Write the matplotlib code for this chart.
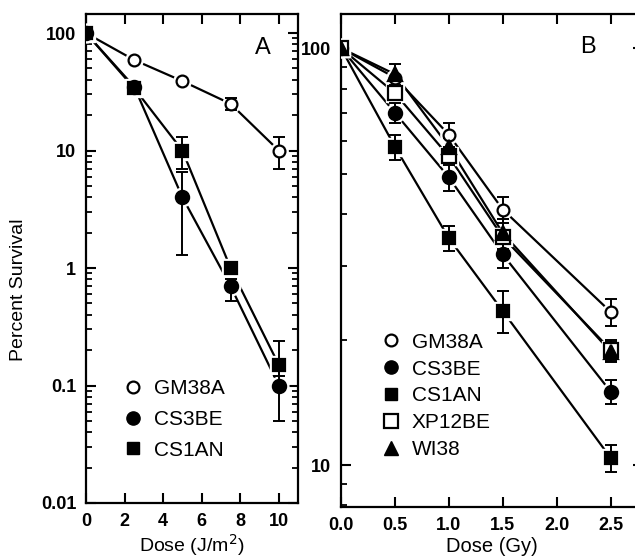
import matplotlib
matplotlib.use('Agg')
import matplotlib.pyplot as plt
from matplotlib.lines import Line2D
from matplotlib.ticker import NullFormatter

plt.rcParams['font.family'] = ['Liberation Sans', 'DejaVu Sans']

# panel A - UV dose (J/m2)
dose_a = [0, 2.5, 5, 7.5, 10]
gm38a_a = [100, 59, 39, 25, 10]
gm38a_a_lo = [0, 0, 0, 3, 3]
gm38a_a_hi = [0, 0, 0, 3, 3]
cs3be_a = [100, 35, 4, 0.7, 0.1]
cs3be_a_lo = [0, 0, 2.7, 0.18, 0.05]
cs3be_a_hi = [0, 0, 2.6, 0.1, 0.05]
cs1an_a = [100, 34, 10, 1.0, 0.15]
cs1an_a_lo = [0, 0, 3, 0.1, 0.03]
cs1an_a_hi = [0, 0, 3, 0.1, 0.09]
ticks_a = [0.01, 0.1, 1, 10, 100]
ticklabels_a = ['0.01', '0.1', '1', '10', '100']

# panel B - gamma dose (Gy)
dose_b = [0, 0.5, 1.0, 1.5, 2.5]
gm38a_b = [100, 85, 62, 41, 23.3]
gm38a_b_err = [0, 0, 4, 3, 1.7]
cs3be_b = [100, 70, 49, 32, 15]
cs3be_b_err = [0, 4, 3.5, 2.3, 1.0]
cs1an_b = [100, 58, 35, 23.4, 10.4]
cs1an_b_err = [0, 4, 2.4, 2.7, 0.8]
xp12be_b = [100, 78, 55, 35.2, 18.9]
xp12be_b_err = [0, 0, 0, 0, 1.1]
wi38_b = [100, 86.6, 58, 36, 18.7]
wi38_b_err = [0, 5, 3, 3, 1.0]
ticks_b = [10, 100]
ticklabels_b = ['10', '100']

fig = plt.figure(figsize=(6.35, 5.6), dpi=100)
axA = fig.add_axes([0.1354, 0.1018, 0.334, 0.873])
axB = fig.add_axes([0.537, 0.0946, 0.4756, 0.880])
axA.set_yscale('log')
axB.set_yscale('log')


def series(ax, x, y, lo, hi, marker, filled, ms):
    ax.plot(x, y, color='black', lw=1.6, zorder=2)
    # white halo so lines stop short of the markers
    ax.plot(x, y, ls='none', marker=marker, ms=ms + 4, mfc='white', mec='white', zorder=3)
    ax.errorbar(x, y, yerr=[lo, hi], fmt='none', ecolor='black', elinewidth=1.4,
                capsize=4, capthick=1.4, zorder=4)
    ax.plot(x, y, ls='none', marker=marker, ms=ms, mfc='black' if filled else 'white',
            mec='black', mew=1.6, zorder=5)


def style(ax, xt, xtl, yt, ytl):
    for s in ax.spines.values():
        s.set_linewidth(1.6)
    ax.set_xticks(xt)
    ax.set_xticklabels(xtl, fontweight='bold')
    ax.set_yticks(yt)
    ax.set_yticklabels(ytl, fontweight='bold')
    ax.yaxis.set_minor_formatter(NullFormatter())
    ax.tick_params(which='major', direction='in', length=7, width=1.5, top=True, right=True,
                   labelsize=13, pad=7)
    ax.tick_params(which='minor', direction='in', length=4, width=1.3, top=True, right=True)


series(axA, dose_a, gm38a_a, gm38a_a_lo, gm38a_a_hi, 'o', False, 8.5)
series(axA, dose_a, cs3be_a, cs3be_a_lo, cs3be_a_hi, 'o', True, 9.5)
series(axA, dose_a, cs1an_a, cs1an_a_lo, cs1an_a_hi, 's', True, 9)
axA.set_xlim(0, 11)
axA.set_ylim(0.01, 145)
style(axA, [0, 2, 4, 6, 8, 10], ['0', '2', '4', '6', '8', '10'], ticks_a, ticklabels_a)
axA.set_xlabel('Dose (J/m$^2$)', fontsize=14, labelpad=2)
axA.set_ylabel('Percent Survival', fontsize=14)
axA.yaxis.set_label_coords(-0.278, 0.436)
axA.text(0.835, 0.93, 'A', transform=axA.transAxes, fontsize=17, ha='center', va='center')

series(axB, dose_b, gm38a_b, gm38a_b_err, gm38a_b_err, 'o', False, 8.5)
series(axB, dose_b, cs3be_b, cs3be_b_err, cs3be_b_err, 'o', True, 9.5)
series(axB, dose_b, cs1an_b, cs1an_b_err, cs1an_b_err, 's', True, 9)
series(axB, dose_b, xp12be_b, xp12be_b_err, xp12be_b_err, 's', False, 9.5)
series(axB, dose_b, wi38_b, wi38_b_err, wi38_b_err, '^', True, 9.5)
axB.set_xlim(0, 2.8)
axB.set_ylim(7.93, 120.6)
style(axB, [0, 0.5, 1.0, 1.5, 2.0, 2.5], ['0.0', '0.5', '1.0', '1.5', '2.0', '2.5'],
      ticks_b, ticklabels_b)
axB.set_xlabel('Dose (Gy)', fontsize=14.5, labelpad=2)
axB.text(0.818, 0.933, 'B', transform=axB.transAxes, fontsize=17, ha='center', va='center')

handles_a = [Line2D([], [], ls='none', marker='o', ms=8.5, mfc='white', mec='black', mew=1.6),
             Line2D([], [], ls='none', marker='o', ms=9.5, mfc='black', mec='black'),
             Line2D([], [], ls='none', marker='s', ms=9, mfc='black', mec='black')]
axA.legend(handles_a, ['GM38A', 'CS3BE', 'CS1AN'], loc='upper left', bbox_to_anchor=(0.13, 0.275),
           frameon=False, fontsize=15, handlelength=0.9, handletextpad=0.55, labelspacing=0.57,
           borderpad=0)

handles_b = [Line2D([], [], ls='none', marker='o', ms=8.5, mfc='white', mec='black', mew=1.6),
             Line2D([], [], ls='none', marker='o', ms=9.5, mfc='black', mec='black'),
             Line2D([], [], ls='none', marker='s', ms=9, mfc='black', mec='black'),
             Line2D([], [], ls='none', marker='s', ms=9.5, mfc='white', mec='black', mew=1.6),
             Line2D([], [], ls='none', marker='^', ms=9.5, mfc='black', mec='black')]
axB.legend(handles_b, ['GM38A', 'CS3BE', 'CS1AN', 'XP12BE', 'WI38'], loc='upper left',
           bbox_to_anchor=(0.1, 0.375), frameon=False, fontsize=15, handlelength=0.9,
           handletextpad=0.55, labelspacing=0.38, borderpad=0)

fig.savefig('out.png', dpi=100)
